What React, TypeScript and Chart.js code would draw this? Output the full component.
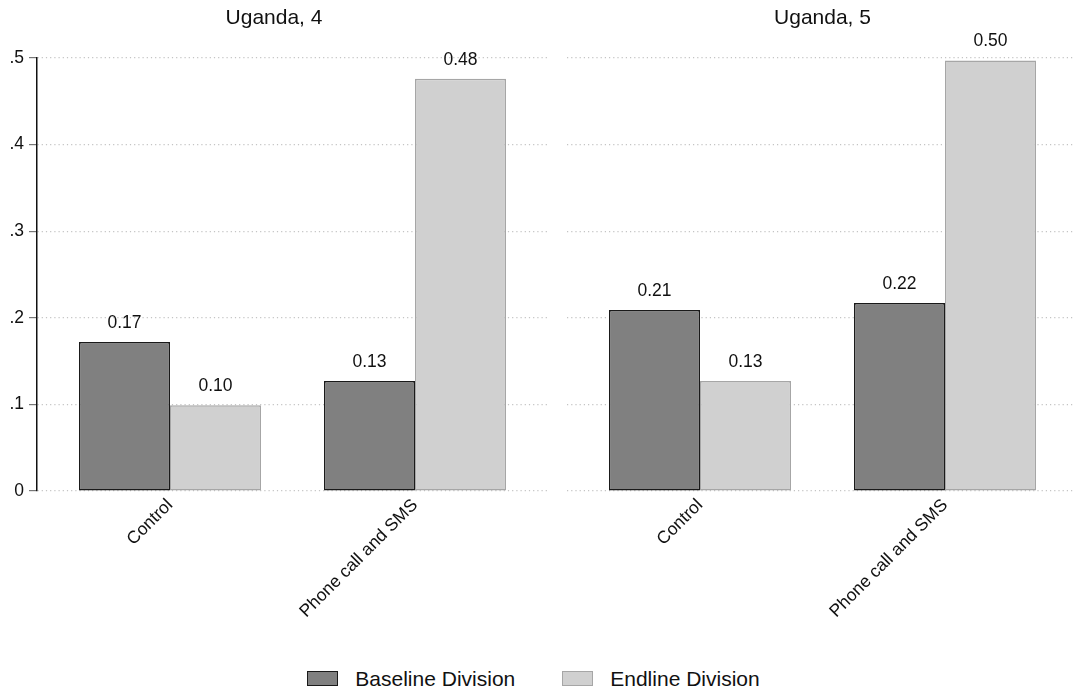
import { useEffect, useRef } from 'react';
import { Chart, registerables } from 'chart.js';

Chart.register(...registerables);

// data
const categories = ['Control', 'Phone call and SMS'];
const panelTitles = ['Uganda, 4', 'Uganda, 5'];
const seriesNames = ['Baseline Division', 'Endline Division'];
const baselineU4 = [0.172, 0.127];
const endlineU4 = [0.099, 0.476];
const baselineU5 = [0.209, 0.217];
const endlineU5 = [0.127, 0.497];
const yTicks = [0, 0.1, 0.2, 0.3, 0.4, 0.5];
const yTickLabels = ['0', '.1', '.2', '.3', '.4', '.5'];

const FONT = '"Liberation Sans", Arial, Helvetica, sans-serif';
const fills = ['#808080', '#d0d0d0'];
const borders = ['#1a1a1a', '#a6a6a6'];

const valueLabels = {
  id: 'valueLabels',
  afterDatasetsDraw(chart: any) {
    const { ctx } = chart;
    ctx.save();
    ctx.font = `17.5px ${FONT}`;
    ctx.fillStyle = '#111';
    ctx.textAlign = 'center';
    ctx.textBaseline = 'middle';
    chart.data.datasets.forEach((ds: any, di: number) => {
      chart.getDatasetMeta(di).data.forEach((bar: any, i: number) => {
        ctx.fillText(ds.data[i].y.toFixed(2), bar.x, bar.y - 19);
      });
    });
    ctx.restore();
  },
};

interface PanelProps {
  title: string;
  baseline: number[];
  endline: number[];
  showYAxis: boolean;
  left: number;
  width: number;
  padLeft: number;
  padRight: number;
}

const HEIGHT = 650;
const PLOT_BOTTOM = 491;

function Panel({ title, baseline, endline, showYAxis, left, width, padLeft, padRight }: PanelProps) {
  const canvasRef = useRef<HTMLCanvasElement>(null);
  const chartInstance = useRef<Chart | null>(null);

  useEffect(() => {
    if (!canvasRef.current) return;
    if (chartInstance.current) chartInstance.current.destroy();

    const series = [baseline, endline];

    chartInstance.current = new Chart(canvasRef.current, {
      type: 'bar',
      data: {
        datasets: series.map((vals, s) => ({
          label: seriesNames[s],
          data: vals.map((y, i) => ({ x: i, y })),
          backgroundColor: fills[s],
          borderColor: borders[s],
          borderWidth: 1.5,
          borderSkipped: false,
          categoryPercentage: 0.743,
          barPercentage: 1,
        })),
      },
      options: {
        responsive: false,
        animation: false,
        layout: { padding: { left: padLeft, right: padRight, top: 0, bottom: 0 } },
        plugins: {
          legend: { display: false },
          tooltip: { enabled: false },
          title: {
            display: true,
            text: title,
            color: '#111',
            font: { family: FONT, size: 21, weight: 'normal' },
            padding: { top: 5.4, bottom: 27.4 },
          },
        },
        scales: {
          x: {
            type: 'linear',
            offset: false,
            min: -0.5429,
            max: 1.5429,
            afterBuildTicks: (axis: any) => {
              axis.ticks = categories.map((_, i) => ({ value: i }));
            },
            afterFit: (axis: any) => {
              axis.height = HEIGHT - PLOT_BOTTOM;
            },
            grid: { display: false, drawTicks: false, offset: false },
            border: { display: false },
            ticks: {
              color: '#111',
              font: { family: FONT, size: 17.5 },
              minRotation: 45,
              maxRotation: 45,
              autoSkip: false,
              padding: 4,
              callback: (value: any) => categories[value] ?? '',
            },
          },
          y: {
            min: 0,
            max: 0.5,
            afterBuildTicks: (axis: any) => {
              axis.ticks = yTicks.map((v) => ({ value: v }));
            },
            afterFit: (axis: any) => {
              axis.width = showYAxis ? 37 : 0;
            },
            grid: {
              color: '#c4c4c4',
              lineWidth: 1.2,
              drawTicks: showYAxis,
              tickLength: 8,
              tickColor: '#777',
              tickWidth: 1.2,
              tickBorderDash: [],
            },
            border: {
              display: showYAxis,
              color: '#111',
              width: 1.5,
              dash: [1.2, 3],
            },
            ticks: {
              display: showYAxis,
              color: '#111',
              padding: 5,
              font: { family: FONT, size: 17.5 },
              callback: (_v: any, i: number) => yTickLabels[i],
            },
          },
        },
      },
      plugins: [valueLabels],
    });

    return () => {
      if (chartInstance.current) {
        chartInstance.current.destroy();
        chartInstance.current = null;
      }
    };
  }, [title, baseline, endline, showYAxis, padLeft, padRight]);

  return (
    <canvas
      ref={canvasRef}
      width={width}
      height={HEIGHT}
      style={{ position: 'absolute', left, top: 0, width, height: HEIGHT }}
    />
  );
}

function Legend() {
  return (
    <div
      style={{
        position: 'absolute',
        top: 666,
        left: 0,
        width: 1067,
        height: 25,
        display: 'flex',
        justifyContent: 'center',
        alignItems: 'center',
        fontFamily: FONT,
        fontSize: 21,
        color: '#111',
      }}
    >
      {seriesNames.map((name, s) => (
        <div key={name} style={{ display: 'flex', alignItems: 'center', marginLeft: s ? 47 : 0 }}>
          <span
            style={{
              display: 'inline-block',
              boxSizing: 'border-box',
              width: 31,
              height: 15,
              background: fills[s],
              border: `1.5px solid ${borders[s]}`,
              marginRight: 17,
            }}
          />
          <span>{name}</span>
        </div>
      ))}
    </div>
  );
}

export default function App() {
  return (
    <div
      style={{
        position: 'fixed',
        top: 0,
        left: 0,
        width: 1073,
        height: 692,
        overflow: 'hidden',
        background: '#fff',
      }}
    >
      <Panel
        title={panelTitles[0]}
        baseline={baselineU4}
        endline={endlineU4}
        showYAxis
        left={0}
        width={560}
        padLeft={0}
        padRight={12}
      />
      <Panel
        title={panelTitles[1]}
        baseline={baselineU5}
        endline={endlineU5}
        showYAxis={false}
        left={560}
        width={525}
        padLeft={7}
        padRight={7}
      />
      <Legend />
    </div>
  );
}
